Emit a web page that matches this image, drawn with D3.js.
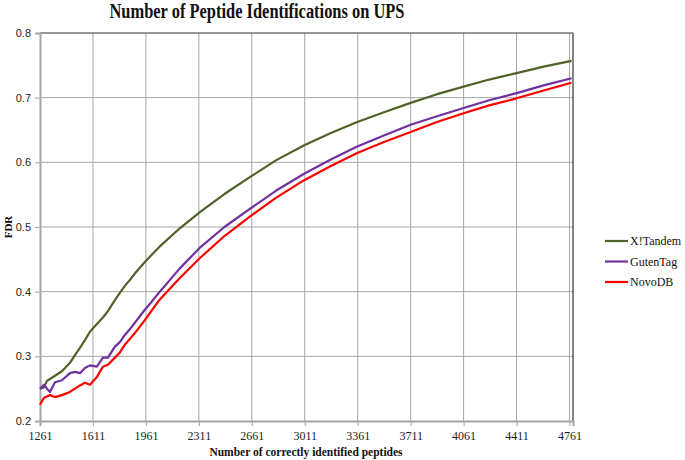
<!DOCTYPE html>
<html>
<head>
<meta charset="utf-8">
<script src="https://cdn.jsdelivr.net/npm/d3@7"></script>
<style>
  body { margin: 0; background: #fff; }
  text { font-family: "Liberation Serif", "Times New Roman", serif; }
</style>
</head>
<body>
<div id="chart"></div>
<script>
// x positions shared by all three curves (number of correctly identified peptides)
const peptides = [1261, 1287, 1307, 1327, 1360, 1406, 1459, 1492, 1525, 1558, 1591, 1637, 1677, 1710,
  1756, 1789, 1822, 1855, 1888, 1921, 1954, 1987, 2053, 2185, 2318, 2480, 2648, 2820, 3004, 3180,
  3354, 3530, 3711, 3880, 4061, 4230, 4411, 4590, 4774]

const xTandem = [0.250, 0.252, 0.262, 0.265, 0.270, 0.277, 0.290, 0.302, 0.313, 0.325, 0.338, 0.350, 0.360, 0.370,
  0.387, 0.398, 0.409, 0.418, 0.428, 0.437, 0.446, 0.454, 0.470, 0.498, 0.523, 0.551, 0.577, 0.603, 0.626, 0.645,
  0.662, 0.677, 0.692, 0.705, 0.717, 0.728, 0.738, 0.748, 0.757]

const gutenTag = [0.250, 0.256, 0.250, 0.245, 0.260, 0.263, 0.274, 0.276, 0.274, 0.282, 0.286, 0.284, 0.298, 0.298,
  0.315, 0.322, 0.333, 0.342, 0.352, 0.362, 0.372, 0.381, 0.400, 0.436, 0.468, 0.500, 0.528, 0.556, 0.582, 0.604,
  0.624, 0.641, 0.658, 0.671, 0.684, 0.696, 0.707, 0.719, 0.730]

const novoDB = [0.225, 0.236, 0.238, 0.240, 0.237, 0.240, 0.245, 0.250, 0.255, 0.259, 0.256, 0.268, 0.284, 0.287,
  0.298, 0.306, 0.318, 0.327, 0.336, 0.346, 0.356, 0.367, 0.388, 0.421, 0.452, 0.486, 0.516, 0.545, 0.572, 0.594,
  0.614, 0.631, 0.647, 0.662, 0.676, 0.688, 0.699, 0.711, 0.723]

const seriesNames = ["X!Tandem", "GutenTag", "NovoDB"]
const seriesColors = ["#4f6228", "#7030a0", "#ff0000"]
const xTicks = [1261, 1611, 1961, 2311, 2661, 3011, 3361, 3711, 4061, 4411, 4761]
const yTicks = [0.2, 0.3, 0.4, 0.5, 0.6, 0.7, 0.8]

const width = 685
const height = 460
const plotLeft = 40, plotRight = 573, plotTop = 33, plotBottom = 421

const svg = d3.select("#chart").append("svg")
  .attr("width", width)
  .attr("height", height)

const xScale = d3.scaleLinear().domain([1261, 4784]).range([plotLeft, plotRight])
const yScale = d3.scaleLinear().domain([0.2, 0.8]).range([plotBottom, plotTop])

// vertical grid
svg.append("g")
  .selectAll("line")
  .data(xTicks.slice(1))
  .enter()
  .append("line")
  .attr("x1", d => xScale(d)).attr("x2", d => xScale(d))
  .attr("y1", plotTop).attr("y2", plotBottom)
  .attr("stroke", "#a6a6a6")
  .attr("stroke-width", 1)

// horizontal grid
svg.append("g")
  .selectAll("line")
  .data(yTicks.slice(1, -1))
  .enter()
  .append("line")
  .attr("x1", plotLeft).attr("x2", plotRight)
  .attr("y1", d => yScale(d)).attr("y2", d => yScale(d))
  .attr("stroke", "#a6a6a6")
  .attr("stroke-width", 1)

// frame: dark top and right, gray axes
svg.append("line")
  .attr("x1", plotLeft).attr("x2", plotRight).attr("y1", plotTop).attr("y2", plotTop)
  .attr("stroke", "#333").attr("stroke-width", 1.2)
svg.append("line")
  .attr("x1", plotRight).attr("x2", plotRight).attr("y1", plotTop).attr("y2", plotBottom)
  .attr("stroke", "#333").attr("stroke-width", 1.2)

const xAxis = svg.append("g")
  .attr("transform", `translate(0, ${plotBottom})`)
  .call(d3.axisBottom(xScale).tickValues(xTicks).tickFormat(d3.format("d")).tickSize(5).tickPadding(5))
xAxis.select(".domain").attr("stroke", "#a6a6a6").attr("stroke-width", 2)
xAxis.selectAll(".tick line").attr("stroke", "#a6a6a6")
xAxis.selectAll("text").attr("font-size", 12).attr("fill", "#222")
  .style("font-family", "'Liberation Serif', serif")

const yAxis = svg.append("g")
  .attr("transform", `translate(${plotLeft}, 0)`)
  .call(d3.axisLeft(yScale).tickValues(yTicks).tickFormat(d3.format(".1f")).tickSize(5).tickPadding(4))
yAxis.select(".domain").attr("stroke", "#a6a6a6").attr("stroke-width", 2)
yAxis.selectAll(".tick line").attr("stroke", "#a6a6a6")
yAxis.selectAll("text").attr("font-size", 11).attr("fill", "#222")
  .style("font-family", "'Liberation Sans', Arial, sans-serif")

// lines
const allSeries = [xTandem, gutenTag, novoDB]
const line = d3.line()
  .x((d, i) => xScale(peptides[i]))
  .y(d => yScale(d))

allSeries.forEach((values, i) => {
  svg.append("path")
    .datum(values)
    .attr("fill", "none")
    .attr("stroke", seriesColors[i])
    .attr("stroke-width", 2.2)
    .attr("stroke-linejoin", "round")
    .attr("d", line)
})

// title and axis titles
svg.append("text")
  .attr("x", 257).attr("y", 18)
  .attr("text-anchor", "middle")
  .attr("font-size", 20)
  .attr("font-weight", "bold")
  .attr("fill", "#111")
  .attr("textLength", 295)
  .attr("lengthAdjust", "spacingAndGlyphs")
  .text("Number of Peptide Identifications  on UPS")

svg.append("text")
  .attr("x", 306).attr("y", 456)
  .attr("text-anchor", "middle")
  .attr("font-size", 11.5)
  .attr("font-weight", "bold")
  .attr("fill", "#111")
  .text("Number of correctly identified peptides")

svg.append("text")
  .attr("transform", "translate(12, 227) rotate(-90)")
  .attr("text-anchor", "middle")
  .attr("font-size", 11)
  .attr("font-weight", "bold")
  .attr("fill", "#111")
  .text("FDR")

// legend
const legend = svg.append("g").attr("transform", "translate(605, 241)")
seriesNames.forEach((name, i) => {
  const g = legend.append("g").attr("transform", `translate(0, ${i * 20.5})`)
  g.append("line")
    .attr("x1", 0).attr("x2", 23).attr("y1", 0).attr("y2", 0)
    .attr("stroke", seriesColors[i])
    .attr("stroke-width", 2.2)
  g.append("text")
    .attr("x", 25).attr("y", 4)
    .attr("font-size", 12)
    .attr("fill", "#111")
    .text(name)
})
</script>
</body>
</html>
